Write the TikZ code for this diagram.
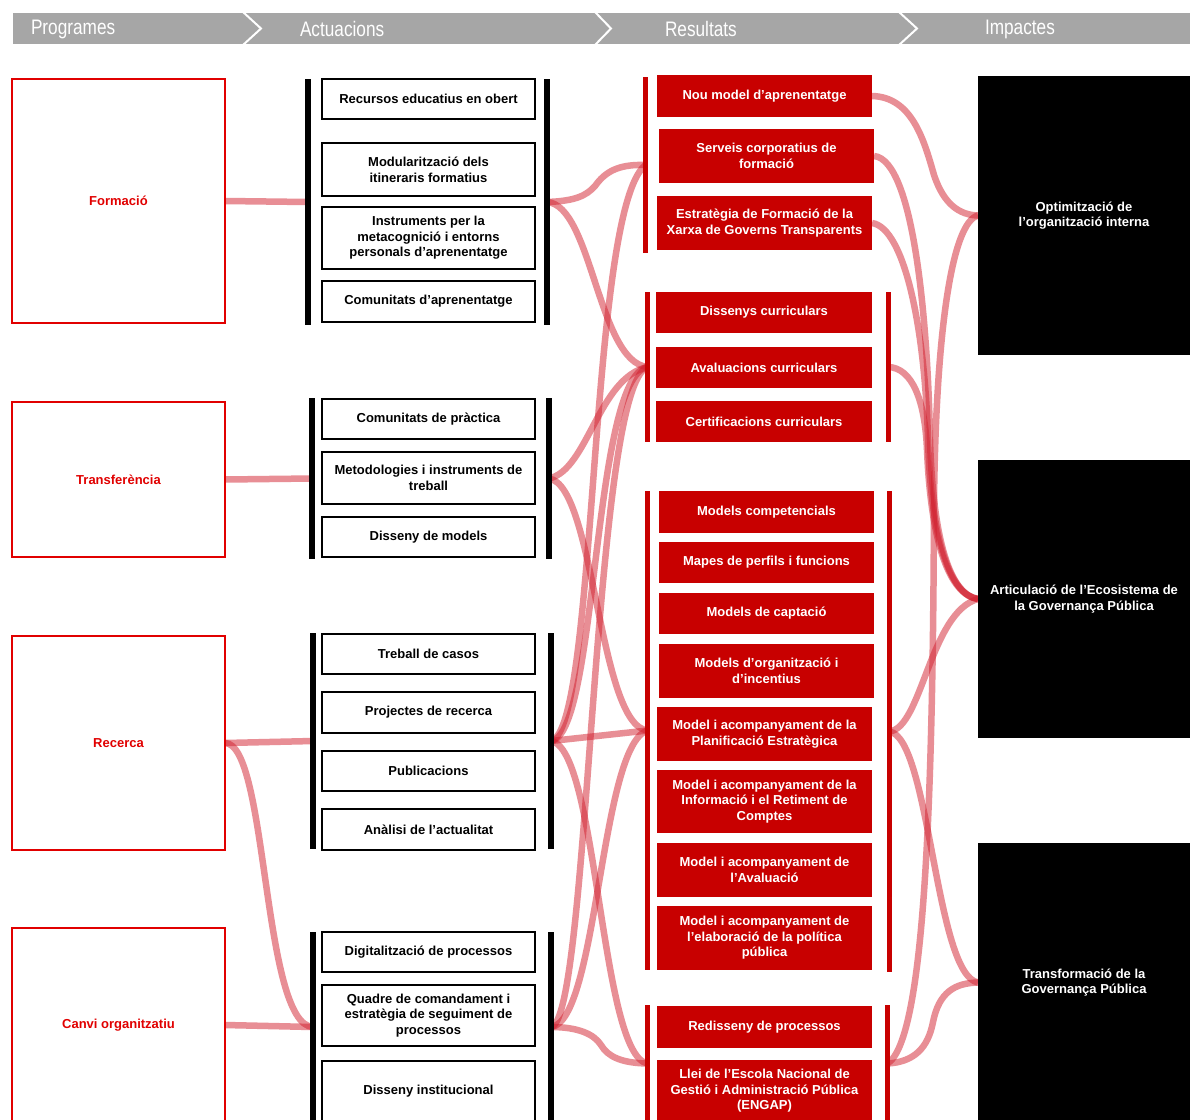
\documentclass[tikz,border=0pt]{standalone}
\usepackage{fontspec}
\setmainfont{Liberation Sans}
\newfontfamily\headfont[FakeStretch=0.82]{Liberation Sans}
\pgfdeclarelayer{bg}
\pgfsetlayers{bg,main}

\definecolor{resred}{RGB}{200,0,0}
\definecolor{progred}{RGB}{225,0,0}
\definecolor{linkred}{RGB}{210,30,45}
\definecolor{headgray}{RGB}{166,166,166}

% box from its corners: style, name, x1, y1, x2, y2, text
\newcommand\mkbox[7]{\node[#1, minimum width={(#5)-(#3)}, minimum height={(#6)-(#4)}] (#2) at ({((#3)+(#5))/2},{((#4)+(#6))/2}) {#7};}

\begin{document}
\begin{tikzpicture}[x=1pt,y=-1pt,
  every node/.style={font=\fontsize{13}{15.6}\selectfont\bfseries, align=center, inner sep=0pt, outer sep=0pt},
  progbox/.style={draw=progred, line width=1.8pt, text=progred},
  actbox/.style={draw=black, line width=2pt, fill=white},
  resbox/.style={fill=resred, text=white},
  impbox/.style={fill=black, text=white},
  blackbar/.style={fill=black},
  redbar/.style={fill=resred},
  headtext/.style={font=\headfont\fontsize{21}{24}\selectfont, text=white, anchor=west},
  link/.style={draw=linkred, line width=6.5pt, opacity=0.5},
]
\useasboundingbox (0,0) rectangle (1190,1119);
\clip (0,0) rectangle (1190,1119);

% ---- header band ----
\fill[headgray] (13,13) rectangle (1190,44);
\draw[white, line width=2pt] (243,12) -- (261,28.5) -- (243,45);
\draw[white, line width=2pt] (595,12) -- (611,28.5) -- (595,45);
\draw[white, line width=2pt] (899,12) -- (917,28.5) -- (899,45);
\node[headtext] (hprog) at (31,29) {Programes};
\node[headtext] (hact) at (300,29) {Actuacions};
\node[headtext] (hres) at (665,29) {Resultats};
\node[headtext] (himp) at (985,29) {Impactes};

% ---- Programes ----
\mkbox{progbox}{p1}{12}{79}{225}{323}{Formació}
\mkbox{progbox}{p2}{12}{402}{225}{557}{Transferència}
\mkbox{progbox}{p3}{12}{636}{225}{850}{Recerca}
\mkbox{progbox}{p4}{12}{928}{225}{1122}{Canvi organitzatiu}

% ---- Actuacions ----
\mkbox{blackbar}{a1L}{305}{79}{311}{325}{}
\mkbox{blackbar}{a1R}{544}{79}{550}{325}{}
\mkbox{actbox}{b11}{322}{79}{535}{119}{Recursos educatius en obert}
\mkbox{actbox}{b12}{322}{143}{535}{196}{Modularització dels\\itineraris formatius}
\mkbox{actbox}{b13}{322}{207}{535}{269}{Instruments per la\\metacognició i entorns\\personals d’aprenentatge}
\mkbox{actbox}{b14}{322}{281}{535}{322}{Comunitats d’aprenentatge}

\mkbox{blackbar}{a2L}{309}{398}{315}{559}{}
\mkbox{blackbar}{a2R}{546}{398}{552}{559}{}
\mkbox{actbox}{b21}{322}{399}{535}{439}{Comunitats de pràctica}
\mkbox{actbox}{b22}{322}{452}{535}{504}{Metodologies i instruments de\\treball}
\mkbox{actbox}{b23}{322}{517}{535}{557}{Disseny de models}

\mkbox{blackbar}{a3L}{310}{633}{316}{849}{}
\mkbox{blackbar}{a3R}{548}{633}{554}{849}{}
\mkbox{actbox}{b31}{322}{634}{535}{674}{Treball de casos}
\mkbox{actbox}{b32}{322}{692}{535}{733}{Projectes de recerca}
\mkbox{actbox}{b33}{322}{751}{535}{791}{Publicacions}
\mkbox{actbox}{b34}{322}{809}{535}{850}{Anàlisi de l’actualitat}

\mkbox{blackbar}{a4L}{310}{932}{316}{1122}{}
\mkbox{blackbar}{a4R}{548}{932}{554}{1122}{}
\mkbox{actbox}{b41}{322}{932}{535}{972}{Digitalització de processos}
\mkbox{actbox}{b42}{322}{985}{535}{1046}{Quadre de comandament i\\estratègia de seguiment de\\processos}
\mkbox{actbox}{b43}{322}{1061}{535}{1121}{Disseny institucional}

% ---- Resultats ----
\mkbox{redbar}{r1L}{643}{77}{648}{253}{}
\mkbox{resbox}{r11}{657}{75}{872}{117}{Nou model d’aprenentatge}
\mkbox{resbox}{r12}{659}{129}{874}{183}{Serveis corporatius de\\formació}
\mkbox{resbox}{r13}{657}{196}{872}{250}{Estratègia de Formació de la\\Xarxa de Governs Transparents}

\mkbox{redbar}{r2L}{645}{292}{650}{442}{}
\mkbox{redbar}{r2R}{886}{292}{891}{442}{}
\mkbox{resbox}{r21}{656}{292}{872}{333}{Dissenys curriculars}
\mkbox{resbox}{r22}{656}{347}{872}{388}{Avaluacions curriculars}
\mkbox{resbox}{r23}{656}{401}{872}{442}{Certificacions curriculars}

\mkbox{redbar}{r3L}{645}{491}{650}{970}{}
\mkbox{redbar}{r3R}{887}{491}{892}{972}{}
\mkbox{resbox}{r31}{659}{491}{874}{533}{Models competencials}
\mkbox{resbox}{r32}{659}{542}{874}{583}{Mapes de perfils i funcions}
\mkbox{resbox}{r33}{659}{593}{874}{634}{Models de captació}
\mkbox{resbox}{r34}{659}{644}{874}{698}{Models d’organització i\\d’incentius}
\mkbox{resbox}{r35}{657}{707}{872}{761}{Model i acompanyament de la\\Planificació Estratègica}
\mkbox{resbox}{r36}{657}{770}{872}{833}{Model i acompanyament de la\\Informació i el Retiment de\\Comptes}
\mkbox{resbox}{r37}{657}{843}{872}{897}{Model i acompanyament de\\l’Avaluació}
\mkbox{resbox}{r38}{657}{906}{872}{970}{Model i acompanyament de\\l’elaboració de la política\\pública}

\mkbox{redbar}{r4L}{645}{1005}{650}{1122}{}
\mkbox{redbar}{r4R}{885}{1005}{890}{1122}{}
\mkbox{resbox}{r41}{657}{1006}{872}{1048}{Redisseny de processos}
\mkbox{resbox}{r42}{657}{1060}{872}{1122}{Llei de l’Escola Nacional de\\Gestió i Administració Pública\\(ENGAP)}

% ---- Impactes ----
\mkbox{impbox}{i1}{978}{76}{1190}{355}{Optimització de\\l’organització interna}
\mkbox{impbox}{i2}{978}{460}{1190}{738}{Articulació de l’Ecosistema de\\la Governança Pública}
\mkbox{impbox}{i3}{978}{843}{1190}{1122}{Transformació de la\\Governança Pública}

% ---- links ----
\begin{pgfonlayer}{bg}
\clip (0,0) rectangle (1190,1119);
\fill[white] (0,0) rectangle (1190,1119);
% Programes to Actuacions
\draw[link] (p1.east) -- (a1L.center);
\draw[link] (p2.east) -- (a2L.center);
\draw[link] (p3.east) -- (a3L.center);
\draw[link] (p3.east) .. controls (268,743) and (262,1025) .. (a4L.center);
\draw[link] (p4.east) -- (a4L.center);
% Actuacions to Resultats
\draw[link] (a1R.center) .. controls (575,201) and (586,196) .. (595,186) .. controls (605,172) and (618,164) .. (r1L.center);
\draw[link] (a1R.center) .. controls (592,205) and (598,362) .. (r2L.center);
\draw[link] (a2R.center) .. controls (588,470) and (598,378) .. (r2L.center);
\draw[link] (a2R.center) .. controls (595,485) and (598,725) .. (r3L.center);
\draw[link] (a3R.center) -- (r3L.center);
\draw[link] (a3R.center) .. controls (598,730) and (588,210) .. (r1L.center);
\draw[link] (a3R.center) .. controls (598,735) and (592,378) .. (r2L.center);
\draw[link] (a3R.center) .. controls (598,748) and (600,1055) .. (r4L.center);
\draw[link] (a4R.center) .. controls (578,1027) and (594,1034) .. (601,1045) .. controls (608,1057) and (622,1063) .. (r4L.center);
\draw[link] (a4R.center) .. controls (598,1022) and (600,745) .. (r3L.center);
\draw[link] (a4R.center) .. controls (590,1022) and (592,388) .. (r2L.center);
% Resultats to Impactes
\draw[link] (r11.east) .. controls (912,97) and (924,140) .. (934,175) .. controls (944,205) and (960,215) .. (i1.west);
\draw[link] (r12.east) .. controls (915,160) and (928,330) .. (930,440) .. controls (933,540) and (950,595) .. (i2.west);
\draw[link] (r13.east) .. controls (905,228) and (925,330) .. (928,440) .. controls (931,540) and (950,595) .. (i2.west);
\draw[link] (r2R.center) .. controls (912,368) and (925,400) .. (927,450) .. controls (931,545) and (950,595) .. (i2.west);
\draw[link] (i1.west) .. controls (952,222) and (936,330) .. (934,500) .. controls (933,800) and (925,1040) .. (r4R.center);
\draw[link] (r3R.center) .. controls (922,728) and (930,612) .. (i2.west);
\draw[link] (r3R.center) .. controls (930,738) and (935,975) .. (i3.west);
\draw[link] (r4R.center) .. controls (914,1062) and (928,1048) .. (933,1022) .. controls (939,992) and (955,983) .. (i3.west);
\end{pgfonlayer}
\end{tikzpicture}
\end{document}
